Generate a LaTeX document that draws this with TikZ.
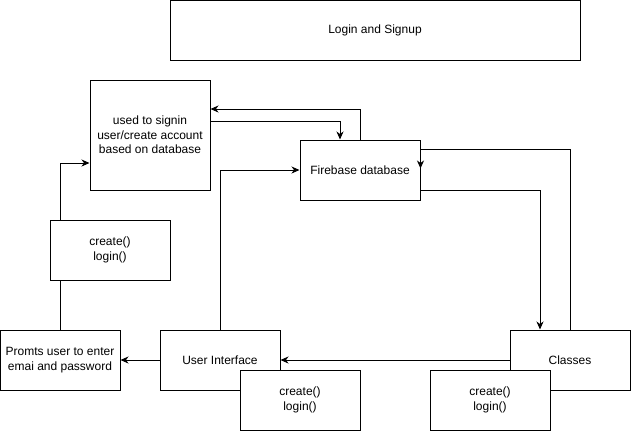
\documentclass[tikz,border=0pt]{standalone}
\usepackage{fontspec}
\setmainfont{Liberation Sans}
\usetikzlibrary{positioning, calc, arrows.meta}

\begin{document}
\begin{tikzpicture}[x=1pt, y=-1pt, font=\fontsize{12}{14.3}\selectfont,
  cell/.style={rectangle, draw, line width=1pt, fill=white, align=center, minimum width=120pt, minimum height=60pt, inner sep=0pt},
  link/.style={->, >={Stealth[length=8pt,width=7pt,inset=2.5pt]}, line width=1pt}]

\useasboundingbox (0,0) rectangle (632,432);

\node[cell, minimum width=410pt] at (375,30) (title) {Login and Signup};

\node[cell, minimum height=110pt] at (150,135) (signin) {used to signin\\user/create account\\based on database};
\node[cell] at (360,170) (firebase) {Firebase database};

\node[cell] at (60,360) (promts) {Promts user to enter\\emai and password};
\node[cell] at (220,360) (ui) {User Interface};
\node[cell] at (570,360) (classes) {Classes};

\draw[link] (firebase.north) |- ([yshift=26pt]signin.east);
\draw[link] ([yshift=14pt]signin.east) -| ([xshift=-20pt]firebase.north);

\draw[link] (ui.north) |- (firebase.west);
\draw[link] (promts.north) |- ([yshift=-28pt]signin.west);

\draw[link] (ui.west) -- (promts.east);
\draw[link] (classes.west) -- (ui.east);

\draw[link] ([yshift=-20pt]firebase.east) -| ([xshift=-30pt]classes.north);
\draw[link] (classes.north) |- ([yshift=-10pt]firebase.north east) -- ([yshift=-29pt]firebase.north east);

\node[cell] at (110,250) (createA) {create()\\login()};
\node[cell] at (300,400) (createB) {create()\\login()};
\node[cell] at (490,400) (createC) {create()\\login()};
\end{tikzpicture}
\end{document}
